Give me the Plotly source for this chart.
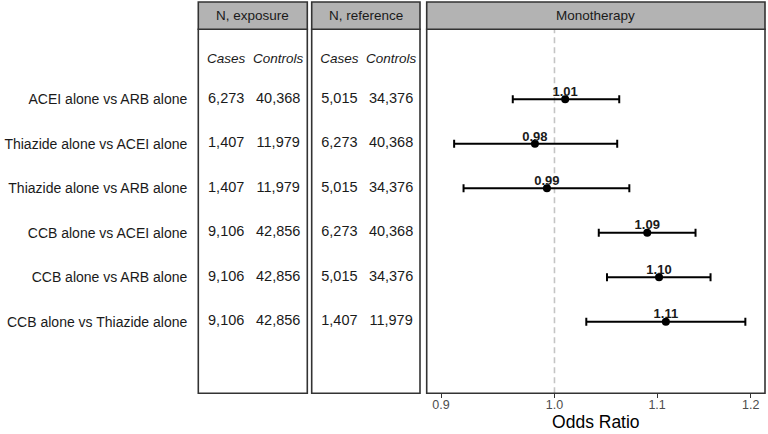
import plotly.graph_objects as go

# ---------------- data ----------------
comparisons = [
    "ACEI alone vs ARB alone",
    "Thiazide alone vs ACEI alone",
    "Thiazide alone vs ARB alone",
    "CCB alone vs ACEI alone",
    "CCB alone vs ARB alone",
    "CCB alone vs Thiazide alone",
]
exp_cases = ["6,273", "1,407", "1,407", "9,106", "9,106", "9,106"]
exp_controls = ["40,368", "11,979", "11,979", "42,856", "42,856", "42,856"]
ref_cases = ["5,015", "6,273", "5,015", "6,273", "5,015", "1,407"]
ref_controls = ["34,376", "40,368", "34,376", "40,368", "34,376", "11,979"]

odds_ratio = [1.01, 0.982, 0.993, 1.09, 1.102, 1.109]
or_labels = ["1.01", "0.98", "0.99", "1.09", "1.10", "1.11"]
ci_low = [0.962, 0.911, 0.919, 1.042, 1.050, 1.030]
ci_high = [1.062, 1.060, 1.072, 1.140, 1.156, 1.194]

x_ticks = [0.9, 1.0, 1.1, 1.2]
x_tick_labels = ["0.9", "1.0", "1.1", "1.2"]
null_value = 1.0

panel_titles = ["N, exposure", "N, reference", "Monotherapy"]
col_headers = ["Cases", "Controls"]
x_title = "Odds Ratio"

# ---------------- layout helpers ----------------
W, H = 768, 434
FONT = "Liberation Sans, Arial, sans-serif"
rows = list(range(1, len(comparisons) + 1))
header_row = 0.116

def px(x):
    return x / W

def py(y):
    return 1 - y / H

panels = [(198.3, 307.3), (311.7, 420.0), (426.7, 765.0)]
top_px, strip_px, bottom_px = 2.0, 29.3, 393.3
col_pos = [0.256, 0.733]

fig = go.Figure()

# Table panels
for xa, cases, controls in (("x2", exp_cases, exp_controls), ("x3", ref_cases, ref_controls)):
    fig.add_trace(go.Scatter(
        x=[col_pos[0]] * len(rows), y=rows, text=cases, mode="text",
        xaxis=xa, yaxis="y", cliponaxis=False, hoverinfo="skip", showlegend=False,
        textfont=dict(family=FONT, size=14.5, color="#1a1a1a")))
    fig.add_trace(go.Scatter(
        x=[col_pos[1]] * len(rows), y=rows, text=controls, mode="text",
        xaxis=xa, yaxis="y", cliponaxis=False, hoverinfo="skip", showlegend=False,
        textfont=dict(family=FONT, size=14.5, color="#1a1a1a")))
    fig.add_trace(go.Scatter(
        x=col_pos, y=[header_row, header_row], text=col_headers, mode="text",
        xaxis=xa, yaxis="y", cliponaxis=False, hoverinfo="skip", showlegend=False,
        textfont=dict(family=FONT, size=13.5, color="#1a1a1a", style="italic")))

# Forest plot
fig.add_trace(go.Scatter(
    x=odds_ratio, y=rows, mode="markers", xaxis="x", yaxis="y",
    marker=dict(color="black", size=8),
    error_x=dict(type="data", symmetric=False,
                 array=[h - o for h, o in zip(ci_high, odds_ratio)],
                 arrayminus=[o - l for o, l in zip(odds_ratio, ci_low)],
                 color="black", thickness=2, width=4),
    showlegend=False, cliponaxis=False))
fig.add_trace(go.Scatter(
    x=odds_ratio, y=rows, mode="text", text=or_labels, textposition="top center",
    xaxis="x", yaxis="y", showlegend=False, cliponaxis=False, hoverinfo="skip",
    textfont=dict(family=FONT, size=13, color="#1a1a1a", weight="bold")))

shapes = []
# reference line
shapes.append(dict(type="line", xref="x", yref="y domain", x0=null_value, x1=null_value,
                   y0=0, y1=1, layer="below",
                   line=dict(color="#c4c4c4", width=1.6, dash="6px,4px")))
# panels & strips
for (l, r) in panels:
    shapes.append(dict(type="rect", xref="paper", yref="paper",
                       x0=px(l), x1=px(r), y0=py(bottom_px), y1=py(strip_px),
                       line=dict(color="#333333", width=1.6), fillcolor="rgba(0,0,0,0)",
                       layer="above"))
    shapes.append(dict(type="rect", xref="paper", yref="paper",
                       x0=px(l), x1=px(r), y0=py(strip_px), y1=py(top_px),
                       line=dict(color="#333333", width=1.6), fillcolor="#b3b3b3",
                       layer="above"))

annotations = []
for (l, r), t in zip(panels, panel_titles):
    annotations.append(dict(text=t, xref="paper", yref="paper",
                            x=px((l + r) / 2), y=py((top_px + strip_px) / 2),
                            xanchor="center", yanchor="middle", showarrow=False,
                            font=dict(family=FONT, size=13.5, color="#1a1a1a")))

fig.update_layout(
    width=W, height=H, autosize=False,
    margin=dict(l=0, r=0, t=0, b=0, pad=0),
    paper_bgcolor="white", plot_bgcolor="white",
    shapes=shapes, annotations=annotations,
    font=dict(family=FONT),
    xaxis=dict(domain=[px(panels[2][0]), px(panels[2][1])], anchor="y",
               type="log", range=[-0.05155, 0.08493], automargin=False,
               tickvals=x_ticks, ticktext=x_tick_labels,
               ticks="outside", ticklen=4, tickwidth=1.2, tickcolor="#333333",
               ticklabelstandoff=-4,
               tickfont=dict(family=FONT, size=12.5, color="#4d4d4d"),
               showgrid=False, zeroline=False, showline=False,
               title=dict(text=x_title, font=dict(family=FONT, size=17.5, color="black"),
                          standoff=4)),
    xaxis2=dict(domain=[px(panels[0][0]), px(panels[0][1])], anchor="y",
                range=[0, 1], visible=False),
    xaxis3=dict(domain=[px(panels[1][0]), px(panels[1][1])], anchor="y",
                range=[0, 1], visible=False),
    yaxis=dict(domain=[py(bottom_px), py(strip_px)], anchor="x2", automargin=False,
               range=[7.61, -0.574], tickvals=rows, ticktext=comparisons,
               ticks="", ticklabelstandoff=10,
               tickfont=dict(family=FONT, size=14, color="#1a1a1a"),
               showgrid=False, zeroline=False, showline=False),
)

fig.write_html("out.html", config={"displayModeBar": False},
               post_script="document.body.style.margin='0px';")
